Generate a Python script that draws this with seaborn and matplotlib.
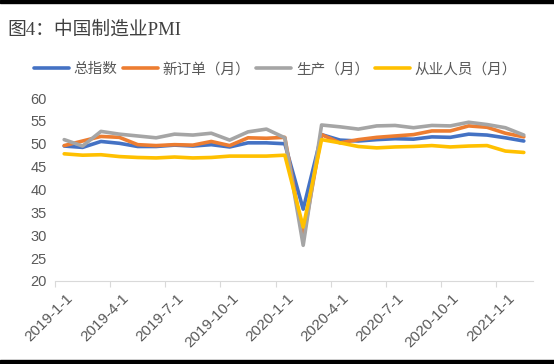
import pandas as pd
import matplotlib
matplotlib.use("Agg")
import matplotlib.pyplot as plt
import matplotlib.transforms as mtransforms
import seaborn as sns
from matplotlib.patches import Rectangle

# China manufacturing PMI, monthly 2019-01 .. 2021-02
months = pd.date_range("2019-01-01", "2021-02-01", freq="MS")
pmi = [49.5, 49.2, 50.5, 50.1, 49.4, 49.4, 49.7, 49.5, 49.8, 49.3, 50.2, 50.2,
       50.0, 35.7, 52.0, 50.8, 50.6, 50.9, 51.1, 51.0, 51.5, 51.4, 52.1, 51.9,
       51.3, 50.6]
new_orders = [49.6, 50.6, 51.6, 51.4, 49.8, 49.6, 49.8, 49.7, 50.5, 49.6, 51.3, 51.2,
              51.4, 29.3, 52.0, 50.2, 50.9, 51.4, 51.7, 52.0, 52.8, 52.8, 53.9, 53.6,
              52.3, 51.5]
production = [50.9, 49.5, 52.7, 52.1, 51.7, 51.3, 52.1, 51.9, 52.3, 50.8, 52.6, 53.2,
              51.3, 27.8, 54.1, 53.7, 53.2, 53.9, 54.0, 53.5, 54.0, 53.9, 54.7, 54.2,
              53.5, 51.9]
employment = [47.8, 47.5, 47.6, 47.2, 47.0, 46.9, 47.1, 46.9, 47.0, 47.3, 47.3, 47.3,
              47.5, 31.8, 50.9, 50.2, 49.4, 49.1, 49.3, 49.4, 49.6, 49.3, 49.5, 49.6,
              48.4, 48.1]
series_names = ["总指数", "新订单（月）", "生产（月）", "从业人员（月）"]
colors = ["#4472C4", "#ED7D31", "#A5A5A5", "#FFC000"]
tick_labels = ["2019-1-1", "2019-4-1", "2019-7-1", "2019-10-1", "2020-1-1",
               "2020-4-1", "2020-7-1", "2020-10-1", "2021-1-1"]

frames = []
for name, vals in zip(series_names, [pmi, new_orders, production, employment]):
    frames.append(pd.DataFrame({"idx": range(len(months)), "value": vals, "series": name}))
df = pd.concat(frames, ignore_index=True)

sns.set_style("white")
plt.rcParams["font.family"] = ["Liberation Sans", "Noto Sans CJK SC", "DejaVu Sans"]

fig = plt.figure(figsize=(5.54, 3.64), dpi=100)
ax = fig.add_axes([55 / 554, 1 - 281 / 364, (533 - 55) / 554, (281 - 98) / 364])

sns.lineplot(data=df, x="idx", y="value", hue="series", hue_order=series_names,
             palette=colors, linewidth=2.6, ax=ax, legend=False)

ax.set_xlim(-0.5, len(months) - 0.5)
ax.set_ylim(20, 60)
ax.set_yticks(range(20, 61, 5))
ax.set_xticks([-0.5 + 3 * i for i in range(len(tick_labels))])
ax.set_xticklabels(tick_labels, rotation=45, ha="right", va="top", rotation_mode="anchor")
ax.set_xlabel("")
ax.set_ylabel("")
for s in ["top", "right", "left"]:
    ax.spines[s].set_visible(False)
ax.spines["bottom"].set_color("#D9D9D9")
ax.tick_params(axis="x", colors="#595959", labelsize=11, length=4, color="#D9D9D9",
               direction="out", bottom=True, pad=2)
ax.tick_params(axis="y", colors="#595959", labelsize=10.5, length=0, pad=6)

# Excel-style placement of the rotated date labels
shift = mtransforms.ScaledTranslation(11 / 100, -2 / 100, fig.dpi_scale_trans)
for lbl in ax.get_xticklabels():
    lbl.set_transform(lbl.get_transform() + shift)

handles = [plt.Line2D([], [], color=c, linewidth=2.6) for c in colors]
fig.legend(handles, series_names, loc="center", bbox_to_anchor=(0.497, 0.81), ncol=4,
           frameon=False, fontsize=10.5, handlelength=2.4, handletextpad=0.3,
           columnspacing=0.4, labelcolor="#595959")

fig.text(0.014, 1 - 30 / 364, "图4：中国制造业PMI", fontsize=13.5, color="#404040",
         va="center", ha="left", family=["Liberation Serif", "Noto Sans CJK SC"])

fig.add_artist(Rectangle((0, 1 - 3 / 364), 1, 3 / 364, transform=fig.transFigure,
                         color="black"))
fig.add_artist(Rectangle((0, 0), 1, 4 / 364, transform=fig.transFigure, color="black"))

fig.savefig("out.png", dpi=100)
